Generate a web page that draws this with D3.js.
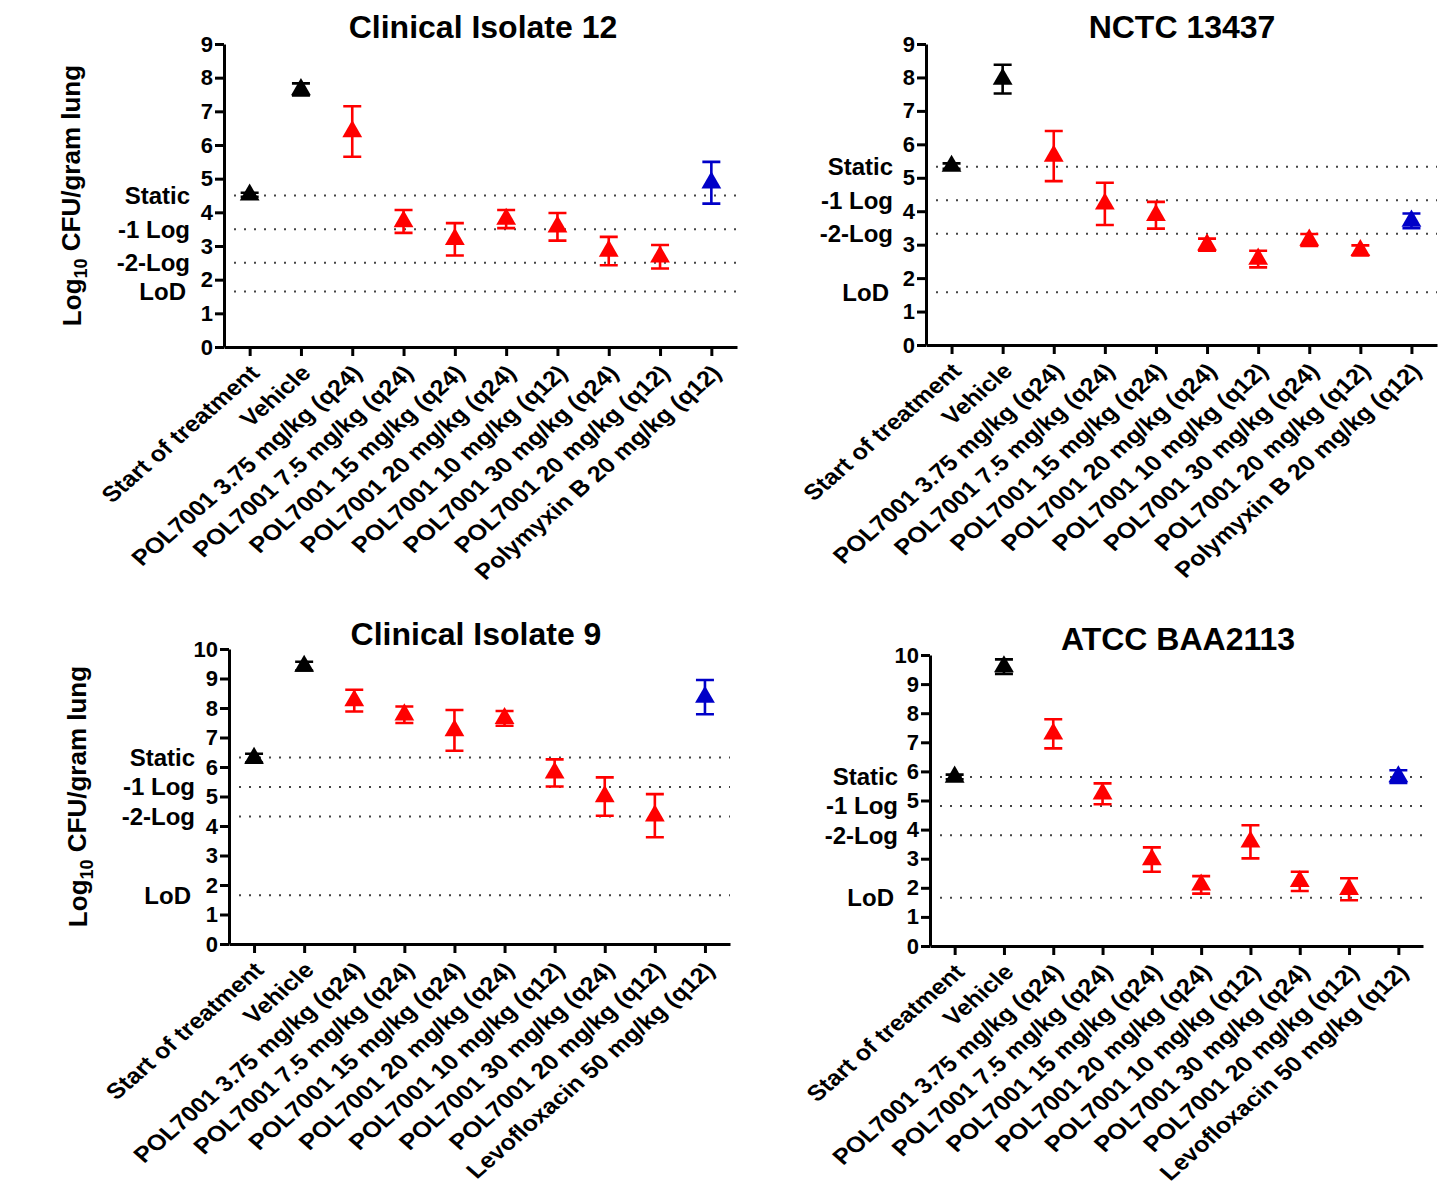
<!DOCTYPE html>
<html>
<head>
<meta charset="utf-8">
<script src="https://cdn.jsdelivr.net/npm/d3@7"></script>
<style>
  body { margin: 0; background: #fff; }
  text { font-family: Arial, "Liberation Sans", sans-serif; font-weight: bold; fill: #000; }
</style>
</head>
<body>
<script>
// categories
var catsPolyB = ["Start of treatment", "Vehicle", "POL7001 3.75 mg/kg (q24)", "POL7001 7.5 mg/kg (q24)",
  "POL7001 15 mg/kg (q24)", "POL7001 20 mg/kg (q24)", "POL7001 10 mg/kg (q12)", "POL7001 30 mg/kg (q24)",
  "POL7001 20 mg/kg (q12)", "Polymyxin B 20 mg/kg (q12)"];
var catsLevo = ["Start of treatment", "Vehicle", "POL7001 3.75 mg/kg (q24)", "POL7001 7.5 mg/kg (q24)",
  "POL7001 15 mg/kg (q24)", "POL7001 20 mg/kg (q24)", "POL7001 10 mg/kg (q12)", "POL7001 30 mg/kg (q24)",
  "POL7001 20 mg/kg (q12)", "Levofloxacin 50 mg/kg (q12)"];
var groupColor = ["#000", "#000", "#f00", "#f00", "#f00", "#f00", "#f00", "#f00", "#f00", "#0000c8"];

// Clinical Isolate 12
var ci12Mean = [4.52, 7.65, 6.4, 3.73, 3.2, 3.8, 3.57, 2.85, 2.68, 4.88];
var ci12Err  = [0.06, 0.18, 0.75, 0.34, 0.48, 0.27, 0.41, 0.42, 0.35, 0.62];
var ci12Ref  = [4.5, 3.5, 2.5, 1.65];

// NCTC 13437
var nctcMean = [5.35, 7.95, 5.65, 4.22, 3.88, 3.0, 2.57, 3.14, 2.83, 3.71];
var nctcErr  = [0.08, 0.43, 0.75, 0.63, 0.4, 0.18, 0.25, 0.18, 0.15, 0.22];
var nctcRef  = [5.33, 4.33, 3.33, 1.58];

// Clinical Isolate 9
var ci9Mean = [6.3, 9.42, 8.25, 7.77, 7.24, 7.65, 5.8, 5.0, 4.35, 8.37];
var ci9Err  = [0.15, 0.15, 0.37, 0.28, 0.69, 0.25, 0.46, 0.65, 0.73, 0.58];
var ci9Ref  = [6.32, 5.32, 4.32, 1.65];

// ATCC BAA2113
var atccMean = [5.81, 9.6, 7.29, 5.23, 2.97, 2.1, 3.58, 2.22, 1.95, 5.82];
var atccErr  = [0.08, 0.25, 0.5, 0.36, 0.42, 0.3, 0.57, 0.33, 0.38, 0.22];
var atccRef  = [5.81, 4.81, 3.81, 1.66];

var refNames = ["Static", "-1 Log", "-2-Log", "LoD"];

var panels = [
  {title: "Clinical Isolate 12", cats: catsPolyB, mean: ci12Mean, err: ci12Err, ref: ci12Ref, ymax: 9,
   x0: 224, x1: 737, yTop: 44, yBot: 347, titleX: 483, titleY: 38, refX: 190, ylabX: 72},
  {title: "NCTC 13437", cats: catsPolyB, mean: nctcMean, err: nctcErr, ref: nctcRef, ymax: 9,
   x0: 926, x1: 1437, yTop: 44, yBot: 345, titleX: 1182, titleY: 38, refX: 893, ylabX: null},
  {title: "Clinical Isolate 9", cats: catsLevo, mean: ci9Mean, err: ci9Err, ref: ci9Ref, ymax: 10,
   x0: 229, x1: 730, yTop: 649, yBot: 944, titleX: 476, titleY: 645, refX: 195, ylabX: 78},
  {title: "ATCC BAA2113", cats: catsLevo, mean: atccMean, err: atccErr, ref: atccRef, ymax: 10,
   x0: 930, x1: 1423, yTop: 655, yBot: 946, titleX: 1178, titleY: 650, refX: 898, ylabX: null}
];

var svg = d3.select("body").append("svg")
  .attr("width", 1455)
  .attr("height", 1191);

panels.forEach(function(p) {
  var g = svg.append("g");
  var x = d3.scalePoint().domain(p.cats).range([p.x0, p.x1]).padding(0.5);
  var y = d3.scaleLinear().domain([0, p.ymax]).range([p.yBot, p.yTop]);

  // dotted reference lines
  g.selectAll(".ref").data(p.ref).enter().append("line")
    .attr("x1", p.x0 + 10).attr("x2", p.x1)
    .attr("y1", function(d) { return y(d); })
    .attr("y2", function(d) { return y(d); })
    .attr("stroke", "#444")
    .attr("stroke-width", 2)
    .attr("stroke-dasharray", "2,8");

  g.selectAll(".refl").data(p.ref).enter().append("text")
    .attr("x", function(d, i) { return i == 3 ? p.refX - 4 : p.refX; })
    .attr("y", function(d) { return y(d); })
    .attr("dy", "0.35em")
    .attr("text-anchor", "end")
    .style("font-size", "24px")
    .text(function(d, i) { return refNames[i]; });

  // axes
  var ya = g.append("g").attr("transform", "translate(" + p.x0 + ",0)")
    .call(d3.axisLeft(y).ticks(p.ymax).tickSize(9).tickSizeOuter(0).tickFormat(d3.format("d")));
  var xa = g.append("g").attr("transform", "translate(0," + p.yBot + ")")
    .call(d3.axisBottom(x).tickSize(9).tickSizeOuter(0).tickFormat(""));
  [ya, xa].forEach(function(a) {
    a.select(".domain").attr("stroke", "#000").attr("stroke-width", 3);
    a.selectAll(".tick line").attr("stroke", "#000").attr("stroke-width", 3);
  });
  ya.selectAll(".tick text").style("font-size", "22px").attr("x", -11).attr("fill", "#000");

  // rotated category labels (slightly widened like the source image)
  g.selectAll(".cat").data(p.cats).enter().append("text")
    .attr("transform", function(d) {
      return "translate(" + (x(d) + 5) + "," + (p.yBot + 22) + ") scale(1.15,1) rotate(-45)";
    })
    .attr("text-anchor", "end")
    .attr("dy", "0.35em")
    .style("font-size", "22px")
    .text(function(d) { return d; });

  // error bars
  var idx = d3.range(p.cats.length);
  g.selectAll(".eb").data(idx).enter().append("path")
    .attr("d", function(i) {
      var cx = x(p.cats[i]), t = y(p.mean[i] + p.err[i]), b = y(p.mean[i] - p.err[i]);
      return "M" + (cx - 9) + "," + t + "H" + (cx + 9) + "M" + cx + "," + t + "V" + b +
             "M" + (cx - 9) + "," + b + "H" + (cx + 9);
    })
    .attr("fill", "none")
    .attr("stroke", function(i) { return groupColor[i]; })
    .attr("stroke-width", 2.6);

  // triangle markers
  g.selectAll(".pt").data(idx).enter().append("path")
    .attr("d", d3.symbol(d3.symbolTriangle).size(170))
    .attr("transform", function(i) { return "translate(" + x(p.cats[i]) + "," + y(p.mean[i]) + ")"; })
    .attr("fill", function(i) { return groupColor[i]; });

  // title
  g.append("text")
    .attr("x", p.titleX).attr("y", p.titleY)
    .attr("text-anchor", "middle")
    .style("font-size", "32px")
    .text(p.title);

  // y label
  if (p.ylabX !== null) {
    var yl = g.append("text")
      .attr("transform", "translate(" + p.ylabX + "," + ((p.yTop + p.yBot) / 2) + ") rotate(-90)")
      .attr("text-anchor", "middle")
      .attr("dy", "0.35em")
      .style("font-size", "26px");
    yl.append("tspan").text("Log");
    yl.append("tspan").attr("dy", "0.3em").style("font-size", "18px").text("10");
    yl.append("tspan").attr("dy", "-0.25em").text(" CFU/gram lung");
  }
});
</script>
</body>
</html>
